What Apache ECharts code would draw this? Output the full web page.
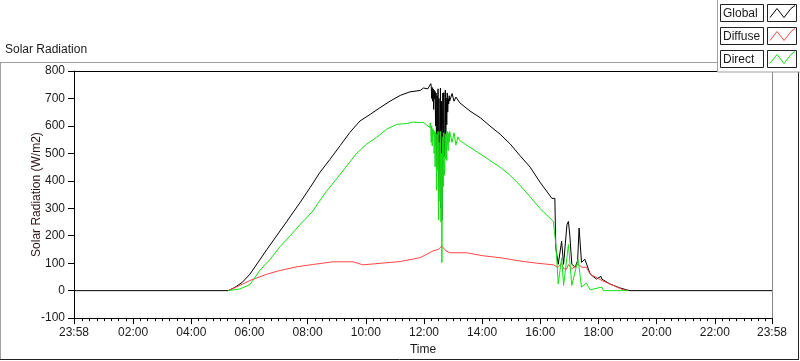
<!DOCTYPE html>
<html>
<head>
<meta charset="utf-8">
<script src="https://cdn.jsdelivr.net/npm/echarts@6/dist/echarts.min.js"></script>
<style>
  html, body { margin: 0; padding: 0; background: #fff; }
  #chart { width: 800px; height: 361px; }
</style>
</head>
<body>
<div id="chart"></div>
<script>
// time axis runs from 23:58 of the previous day to 23:58 (minutes from midnight)
const axisStart = '-00:02'
const axisEnd = '23:58'
const majorTicks = ['-00:02', '02:00', '04:00', '06:00', '08:00', '10:00', '12:00',
  '14:00', '16:00', '18:00', '20:00', '22:00', '23:58']
const yTicks = { min: -100, max: 800, step: 100 }

const seriesNames = ['Global', 'Diffuse', 'Direct']
const seriesColors = ['#000000', '#ff4545', '#14e014']

const globalData = [
  ['-00:02', 0], ['05:16', 0], ['05:30', 12], ['05:45', 30], ['06:01', 60], ['06:36', 150],
  ['07:17', 252], ['07:44', 320], ['08:05', 375], ['08:25', 430], ['08:46', 478],
  ['09:07', 528], ['09:27', 576], ['09:48', 618], ['10:09', 642], ['10:29', 666],
  ['10:50', 690], ['11:11', 711], ['11:31', 724], ['11:52', 729], ['11:59', 738],
  ['12:08', 735], ['12:12', 742], ['12:14', 754],
  ['12:15', 745], ['12:16', 700], ['12:17', 740], ['12:18', 690], ['12:19', 735],
  ['12:20', 660], ['12:21', 730], ['12:22', 700], ['12:23', 725], ['12:24', 600],
  ['12:25', 720], ['12:26', 437], ['12:27', 710], ['12:28', 520], ['12:29', 735],
  ['12:30', 343], ['12:31', 700], ['12:32', 450], ['12:33', 389], ['12:34', 738],
  ['12:35', 300], ['12:36', 690], ['12:37', 258], ['12:38', 600], ['12:39', 720],
  ['12:40', 425], ['12:41', 721], ['12:42', 500], ['12:43', 489], ['12:44', 730],
  ['12:45', 560], ['12:46', 700], ['12:47', 604], ['12:48', 720], ['12:49', 650],
  ['12:50', 700], ['12:51', 680], ['12:52', 710], ['12:53', 690], ['12:54', 696],
  ['12:58', 718], ['13:02', 690], ['13:06', 705], ['13:14', 684], ['13:35', 654],
  ['13:56', 630], ['14:16', 600], ['14:37', 570], ['14:58', 534], ['15:18', 492],
  ['15:39', 450], ['15:59', 396], ['16:24', 336], ['16:30', 336], ['16:32', 156],
  ['16:37', 96], ['16:44', 180], ['16:48', 96], ['16:55', 240], ['16:58', 252],
  ['17:01', 200], ['17:05', 96], ['17:12', 85], ['17:17', 110], ['17:20', 228],
  ['17:25', 103], ['17:32', 114], ['17:43', 60], ['17:56', 42], ['18:05', 52],
  ['18:07', 42], ['18:24', 24], ['18:44', 10], ['18:58', 3], ['19:05', 0], ['23:58', 0]
]

const diffuseData = [
  ['05:16', 0], ['05:40', 19], ['06:01', 37], ['06:36', 60], ['07:00', 72], ['07:38', 87],
  ['08:10', 95], ['08:52', 105], ['09:34', 105], ['09:54', 94], ['10:20', 98],
  ['11:11', 106], ['11:52', 120], ['12:19', 145], ['12:30', 150], ['12:37', 163],
  ['12:45', 145], ['12:54', 138], ['13:28', 138], ['14:02', 127], ['14:37', 120],
  ['15:18', 108], ['15:53', 100], ['16:27', 94], ['16:37', 85], ['16:44', 100],
  ['16:48', 80], ['16:54', 78], ['16:58', 95], ['17:05', 80], ['17:18', 96],
  ['17:26', 85], ['17:35', 85], ['17:43', 60], ['18:07', 37], ['18:24', 24],
  ['18:51', 3], ['19:00', 0]
]

const directData = [
  ['05:16', 0], ['05:40', 6], ['06:01', 22], ['06:22', 75], ['06:43', 115], ['07:03', 160],
  ['07:24', 200], ['07:44', 240], ['08:11', 290], ['08:22', 320], ['08:39', 362],
  ['09:00', 408], ['09:21', 455], ['09:41', 500], ['10:02', 534], ['10:22', 558],
  ['10:43', 588], ['11:04', 606], ['11:26', 609], ['11:37', 614], ['11:52', 612],
  ['11:58', 614], ['12:12', 594],
  ['12:13', 611], ['12:14', 590], ['12:15', 540], ['12:16', 600], ['12:17', 527],
  ['12:18', 590], ['12:19', 570], ['12:20', 585], ['12:21', 500], ['12:22', 580],
  ['12:23', 451], ['12:24', 575], ['12:25', 560], ['12:26', 366], ['12:27', 570],
  ['12:28', 440], ['12:29', 580], ['12:30', 258], ['12:31', 540], ['12:32', 400],
  ['12:33', 325], ['12:34', 580], ['12:35', 250], ['12:36', 500], ['12:37', 102],
  ['12:38', 470], ['12:39', 560], ['12:40', 379], ['12:41', 575], ['12:42', 420],
  ['12:43', 438], ['12:44', 570], ['12:45', 480], ['12:46', 560], ['12:47', 474],
  ['12:48', 580], ['12:49', 530], ['12:50', 510], ['12:51', 575], ['12:52', 540],
  ['12:53', 580], ['12:54', 570], ['12:58', 540], ['13:02', 575], ['13:06', 530],
  ['13:10', 560], ['13:14', 546], ['13:35', 522], ['13:56', 498], ['14:16', 474],
  ['14:37', 450], ['14:58', 420], ['15:18', 384], ['15:39', 342], ['15:59', 300],
  ['16:27', 252], ['16:32', 168], ['16:37', 24], ['16:44', 120], ['16:48', 19],
  ['16:58', 168], ['17:05', 19], ['17:18', 114], ['17:25', 13], ['17:35', 27],
  ['17:43', 3], ['18:07', 13], ['18:10', 0], ['19:00', 0]
]

const toMinutes = (s) => {
  const sign = s.startsWith('-') ? -1 : 1
  const [h, m] = s.replace('-', '').split(':').map(Number)
  return sign * (h * 60 + m)
}
const toPoints = (rows) => rows.map(([t, v]) => [toMinutes(t), v])
const clockLabel = (v) => {
  const m = ((Math.round(v) % 1440) + 1440) % 1440
  return String(Math.floor(m / 60)).padStart(2, '0') + ':' + String(m % 60).padStart(2, '0')
}

const xMin = toMinutes(axisStart)
const xMax = toMinutes(axisEnd)
const majorValues = majorTicks.map(toMinutes)
const allTickValues = majorValues.slice()
for (let v = 15; v <= 1425; v += 15) if (v % 120 !== 0) allTickValues.push(v)
allTickValues.sort((a, b) => a - b)

const font = 'Liberation Sans'
const textColor = '#1a1a1a'

const chart = echarts.init(document.getElementById('chart'), null, { renderer: 'canvas' })

// legend panel drawn as boxed labels with zigzag swatches
const legendGraphics = [{
  type: 'rect', shape: { x: 717.5, y: -1, width: 84, height: 73 },
  style: { fill: '#fff', stroke: '#a0a0a0', lineWidth: 1 }, z: 10
}]
seriesNames.forEach((name, i) => {
  const top = 4.5 + i * 23
  legendGraphics.push(
    { type: 'rect', shape: { x: 720.5, y: top, width: 43, height: 17 },
      style: { fill: '#fff', stroke: '#222', lineWidth: 1 }, z: 11 },
    { type: 'text', x: 723, y: top + 9, z: 12,
      style: { text: name, font: '12px ' + font, fill: textColor, verticalAlign: 'middle' } },
    { type: 'rect', shape: { x: 767.5, y: top, width: 29, height: 17 },
      style: { fill: '#fff', stroke: '#222', lineWidth: 1 }, z: 11 },
    { type: 'polyline', z: 12,
      shape: { points: [[770, top + 13], [777, top + 4], [784, top + 13], [791, top + 4], [795, top + 1]] },
      style: { stroke: seriesColors[i], lineWidth: 1, fill: null } }
  )
})

const frameGraphics = [
  { type: 'line', shape: { x1: 0, y1: 62.5, x2: 718, y2: 62.5 }, style: { stroke: '#a0a0a0', lineWidth: 1 } },
  { type: 'line', shape: { x1: 0.5, y1: 62, x2: 0.5, y2: 360 }, style: { stroke: '#a0a0a0', lineWidth: 1 } },
  { type: 'line', shape: { x1: 0, y1: 359.5, x2: 799, y2: 359.5 }, style: { stroke: '#222', lineWidth: 1 } },
  { type: 'line', shape: { x1: 798.5, y1: 70, x2: 798.5, y2: 360 }, style: { stroke: '#222', lineWidth: 1 } },
  { type: 'text', x: 5, y: 50, style: { text: 'Solar Radiation', font: '12px ' + font, fill: textColor, verticalAlign: 'middle' } }
]

const lineSeries = (name, rows, color, z) => ({
  name,
  type: 'line',
  data: toPoints(rows),
  symbol: 'none',
  silent: true,
  animation: false,
  z,
  lineStyle: { color, width: 1 },
  itemStyle: { color }
})

chart.setOption({
  animation: false,
  backgroundColor: '#fff',
  textStyle: { fontFamily: font },
  grid: { left: 74, right: 28, top: 71, bottom: 39, show: false },
  xAxis: [
    {
      type: 'value', min: xMin, max: xMax, position: 'bottom',
      name: 'Time', nameLocation: 'middle', nameGap: 25,
      nameTextStyle: { color: textColor, fontSize: 12, fontFamily: font },
      axisLine: { show: true, onZero: false, lineStyle: { color: '#000', width: 1 } },
      axisTick: { show: true, customValues: allTickValues, length: 3, lineStyle: { color: '#000' } },
      axisLabel: { customValues: majorValues, formatter: clockLabel, margin: 9,
        color: textColor, fontSize: 12, fontFamily: font, showMinLabel: true, showMaxLabel: true },
      splitLine: { show: false }
    },
    {
      type: 'value', min: xMin, max: xMax, position: 'bottom',
      axisLine: { show: true, onZero: false, lineStyle: { color: '#000', width: 1 } },
      axisTick: { show: true, customValues: majorValues, length: 6, lineStyle: { color: '#000' } },
      axisLabel: { show: false },
      splitLine: { show: false }
    },
    {
      type: 'value', min: xMin, max: xMax, position: 'top',
      axisLine: { show: true, onZero: false, lineStyle: { color: '#000', width: 1 } },
      axisTick: { show: false }, axisLabel: { show: false }, splitLine: { show: false }
    }
  ],
  yAxis: [
    {
      type: 'value', min: yTicks.min, max: yTicks.max, interval: yTicks.step,
      name: 'Solar Radiation (W/m2)', nameLocation: 'middle', nameGap: 31, nameRotate: 90,
      nameMoveOverlap: false,
      nameTextStyle: { color: '#2a1414', fontSize: 12, fontFamily: font },
      axisLine: { show: true, onZero: false, lineStyle: { color: '#000', width: 1 } },
      axisTick: { show: true, length: 6, lineStyle: { color: '#000' } },
      axisLabel: { margin: 9, color: textColor, fontSize: 12, fontFamily: font },
      splitLine: { show: false }
    },
    {
      type: 'value', min: yTicks.min, max: yTicks.max, position: 'right',
      axisLine: { show: true, onZero: false, lineStyle: { color: '#8a8a8a', width: 1 } },
      axisTick: { show: false }, axisLabel: { show: false }, splitLine: { show: false }
    }
  ],
  series: [
    lineSeries(seriesNames[0], globalData, seriesColors[0], 3),
    lineSeries(seriesNames[1], diffuseData, seriesColors[1], 4),
    lineSeries(seriesNames[2], directData, seriesColors[2], 5)
  ],
  graphic: frameGraphics.concat(legendGraphics)
})
</script>
</body>
</html>
